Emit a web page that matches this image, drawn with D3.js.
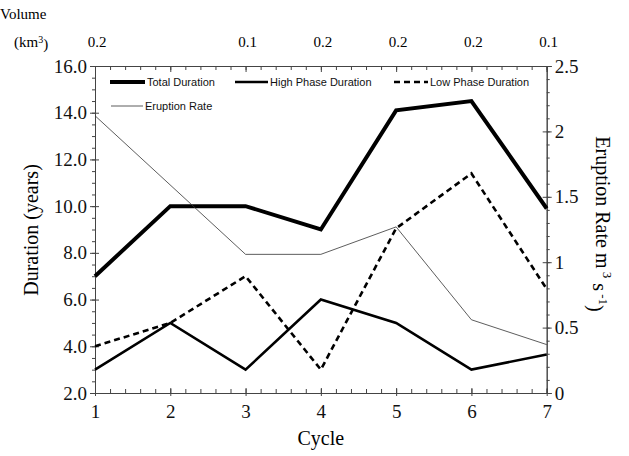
<!DOCTYPE html>
<html>
<head>
<meta charset="utf-8">
<script src="https://cdn.jsdelivr.net/npm/d3@7"></script>
<style>
  body { margin: 0; background: #fff; }
  svg { display: block; }
</style>
</head>
<body>
<div id="chart"></div>
<script>
// eruption cycles — durations on the left axis, eruption rate on the right

const cycles = [1, 2, 3, 4, 5, 6, 7];
const totalDuration = [7.0, 10.0, 10.0, 9.0, 14.1, 14.5, 9.9];
const highPhase = [3.0, 5.0, 3.0, 6.0, 5.0, 3.0, 3.65];
const lowPhase = [4.0, 5.0, 7.0, 3.0, 9.05, 11.4, 6.45];
const eruptionRate = [2.12, null, 1.06, 1.06, 1.27, 0.56, 0.37];
const volumes = ["0.2", "", "0.1", "0.2", "0.2", "0.2", "0.1"];
const leftTicks = [2, 4, 6, 8, 10, 12, 14, 16];
const rightTicks = [0, 0.5, 1, 1.5, 2, 2.5];

const width = 629, height = 456;
const serif = "'Liberation Serif', 'Times New Roman', serif";
const sans = "'Liberation Sans', Arial, sans-serif";

const svg = d3.select("#chart").append("svg")
  .attr("width", width)
  .attr("height", height);

const x = d3.scaleLinear().domain([1, 7]).range([95, 546.7]);
const yL = d3.scaleLinear().domain([2, 16]).range([393, 66]);
const yR = d3.scaleLinear().domain([0, 2.5]).range([393, 66]);

const axisColor = "#444";

// Axes (mirrored on all four sides)
function styleAxis(g) {
  g.select(".domain").attr("stroke", axisColor).attr("stroke-width", 1);
  g.selectAll(".tick line").attr("stroke", axisColor);
  g.selectAll("text").attr("font-family", serif).attr("font-size", "19px").attr("fill", "#111");
}

// minor ticks first, then majors on top
svg.append("g").attr("transform", "translate(0,393)")
  .call(d3.axisBottom(x).tickValues(d3.range(1, 7.01, 0.2)).tickSize(-4).tickFormat(""))
  .call(styleAxis);
svg.append("g").attr("transform", "translate(0,393)")
  .call(d3.axisBottom(x).tickValues(cycles).tickSizeInner(-6).tickSizeOuter(0).tickPadding(12).tickFormat(d3.format("d")))
  .call(styleAxis)
  .call(g => g.selectAll(".tick line").attr("y2", -5).attr("y1", 3));

svg.append("g").attr("transform", "translate(0,66)")
  .call(d3.axisTop(x).tickValues(d3.range(1, 7.01, 0.2)).tickSize(-4).tickFormat(""))
  .call(styleAxis);
svg.append("g").attr("transform", "translate(0,66)")
  .call(d3.axisTop(x).tickValues(cycles).tickSize(-6).tickFormat(""))
  .call(styleAxis);

svg.append("g").attr("transform", "translate(95,0)")
  .call(d3.axisLeft(yL).tickValues(d3.range(2, 16.01, 0.5)).tickSize(3).tickFormat(""))
  .call(styleAxis);
svg.append("g").attr("transform", "translate(95,0)")
  .call(d3.axisLeft(yL).tickValues(leftTicks).tickSize(5).tickPadding(3).tickFormat(d3.format(".1f")))
  .call(styleAxis)
  .call(g => g.selectAll(".tick line").attr("x2", -5).attr("x1", 4));

svg.append("g").attr("transform", "translate(546.7,0)")
  .call(d3.axisRight(yR).tickValues(d3.range(0, 2.501, 0.1)).tickSize(3).tickFormat(""))
  .call(styleAxis);
svg.append("g").attr("transform", "translate(546.7,0)")
  .call(d3.axisRight(yR).tickValues(rightTicks).tickSize(5).tickPadding(3).tickFormat(d3.format("~g")))
  .call(styleAxis)
  .call(g => g.selectAll(".tick line").attr("x2", 5).attr("x1", -4));

// Series
const series = [
  { name: "Total Duration", values: totalDuration, y: yL, width: 4, dash: null, color: "#000" },
  { name: "High Phase Duration", values: highPhase, y: yL, width: 2.6, dash: null, color: "#000" },
  { name: "Low Phase Duration", values: lowPhase, y: yL, width: 2.6, dash: "6,4", color: "#000" },
  { name: "Eruption Rate", values: eruptionRate, y: yR, width: 0.8, dash: null, color: "#333" }
];

series.forEach(s => {
  const pts = cycles.map((c, i) => [c, s.values[i]]).filter(p => p[1] != null);
  svg.append("path")
    .datum(pts)
    .attr("fill", "none")
    .attr("stroke", s.color)
    .attr("stroke-width", s.width)
    .attr("stroke-dasharray", s.dash)
    .attr("stroke-linejoin", "miter")
    .attr("d", d3.line().x(d => x(d[0])).y(d => s.y(d[1])));
});

// Legend
const legendPos = [
  { x: 110, y: 82, len: 35 },
  { x: 235, y: 82, len: 33 },
  { x: 394, y: 82, len: 34 },
  { x: 111, y: 106, len: 32 }
];
series.forEach((s, i) => {
  const p = legendPos[i];
  const g = svg.append("g").attr("transform", `translate(${p.x},${p.y})`);
  g.append("line")
    .attr("x1", 0).attr("x2", p.len)
    .attr("stroke", s.color)
    .attr("stroke-width", s.width)
    .attr("stroke-dasharray", s.dash);
  g.append("text")
    .attr("x", p.len + 2).attr("dy", "0.35em")
    .attr("font-family", sans).attr("font-size", "11px")
    .attr("fill", "#111")
    .text(s.name);
});

// Axis titles
svg.append("text")
  .attr("transform", "translate(38,230) rotate(-90)")
  .attr("text-anchor", "middle")
  .attr("font-family", serif).attr("font-size", "20px")
  .text("Duration (years)");

const rt = svg.append("text")
  .attr("transform", "translate(596,224) rotate(90)")
  .attr("text-anchor", "middle")
  .attr("font-family", serif).attr("font-size", "20px");
rt.append("tspan").text("Eruption Rate m");
rt.append("tspan").attr("dy", "-0.5em").attr("font-size", "13px").text(" 3");
rt.append("tspan").attr("dy", "0.5em").text(" s");
rt.append("tspan").attr("dy", "-0.5em").attr("font-size", "13px").text(" -1");
rt.append("tspan").attr("dy", "0.5em").text(")");

svg.append("text")
  .attr("x", x(4)).attr("y", 445)
  .attr("text-anchor", "middle")
  .attr("font-family", serif).attr("font-size", "20px")
  .text("Cycle");

// Volume labels along the top
svg.append("text")
  .attr("x", 0).attr("y", 19)
  .attr("font-family", serif).attr("font-size", "15px")
  .text("Volume");
const km = svg.append("text")
  .attr("x", 14).attr("y", 47)
  .attr("font-family", serif).attr("font-size", "15px");
km.append("tspan").text("(km");
km.append("tspan").attr("dy", "-0.45em").attr("font-size", "10px").text("3");
km.append("tspan").attr("dy", "0.45em").text(")");

svg.append("g").selectAll("text")
  .data(cycles.map((c, i) => ({ c, v: volumes[i] })).filter(d => d.v !== ""))
  .join("text")
  .attr("x", d => x(d.c) + 2).attr("y", 47)
  .attr("text-anchor", "middle")
  .attr("font-family", serif).attr("font-size", "15px")
  .text(d => d.v);
</script>
</body>
</html>
